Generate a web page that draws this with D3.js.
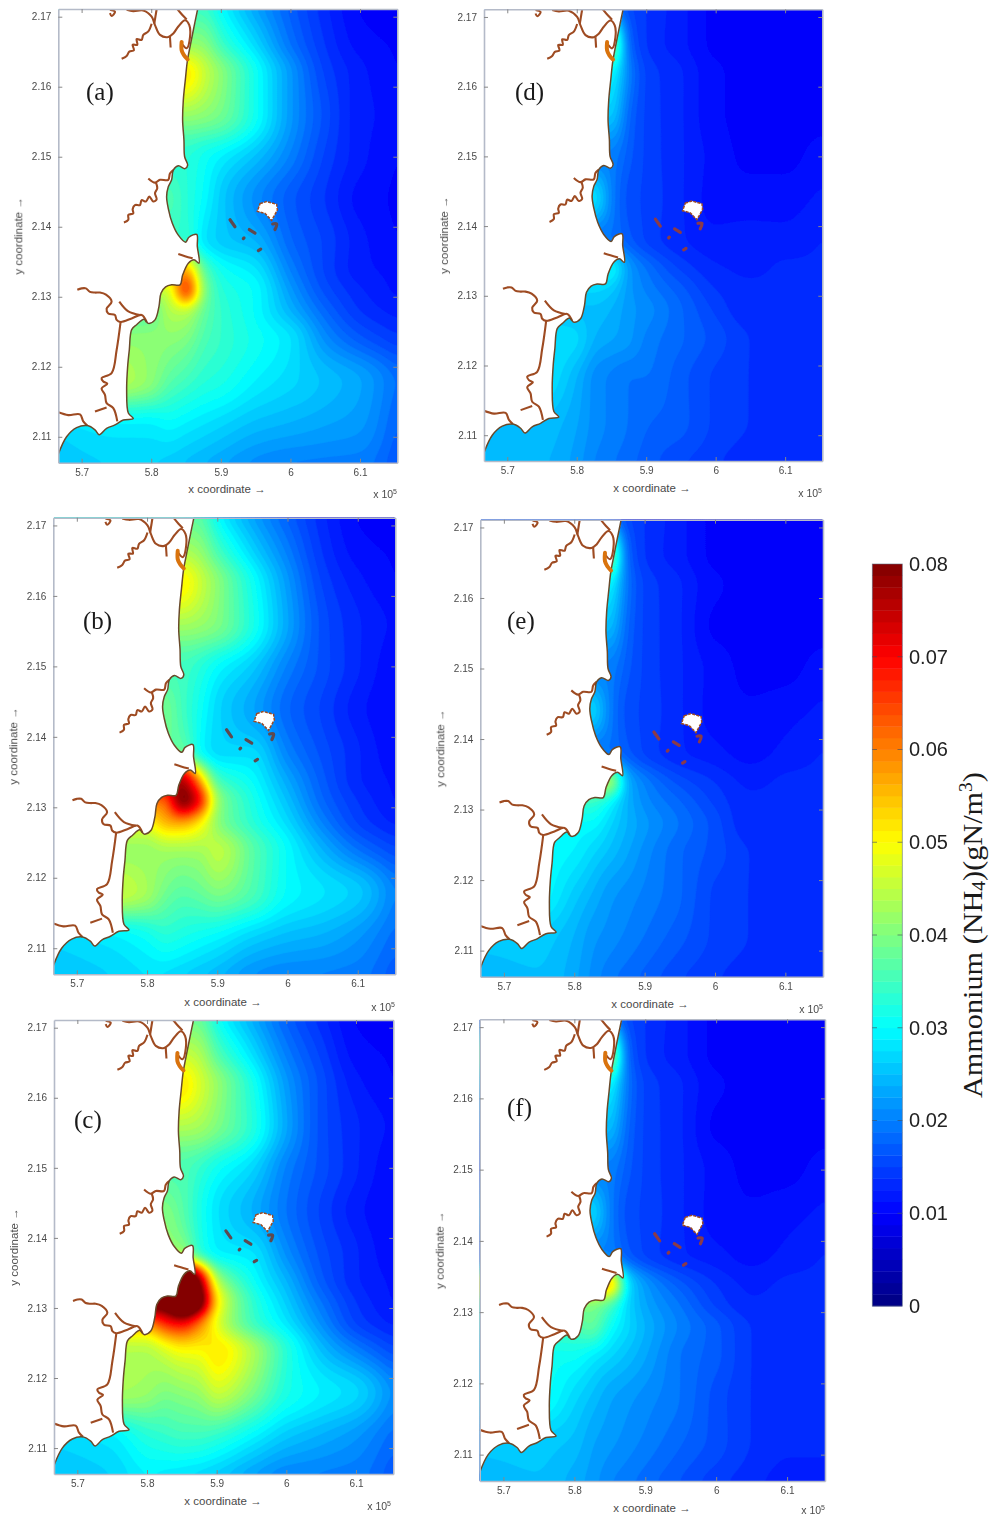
<!DOCTYPE html>
<html><head><meta charset="utf-8">
<script src="https://cdn.jsdelivr.net/npm/d3@7"></script>
<style>html,body{margin:0;padding:0;background:#fff}svg{display:block}</style>
</head><body><svg id="c" width="992" height="1517"></svg>
<script>
// ---- reading grid: eastings (x 1e5) and northings (x 1e6), ammonium in 1e-3 gN/m3
const gridX = [5.65,5.75,5.80,5.825,5.85,5.875,5.90,5.95,6.00,6.05,6.10,6.16];
const gridY = [2.172,2.166,2.162,2.156,2.15,2.144,2.138,2.134,2.131,2.128,2.124,2.118,2.112,2.105];
const fieldA = [
[33,33,33,33,33,33,29,22,17,13,10,9],
[42,42,42,42,42,41,35,27,19,14,11,10],
[52,52,52,52,52,46,41,31,22,15,12,10],
[42,42,42,42,42,41,39,31,22,16,12,11],
[33,33,33,33,33,31,29,25,20,15,12,10],
[36,36,36,36,33,30,26,21,17,14,11,10],
[34,34,34,34,34,28,26,24,18,15,12,10],
[56,56,56,56,56,37,31,28,20,15,12,11],
[46,46,46,46,68,41,33,30,22,16,13,11],
[37,37,37,44,45,38,34,30,24,18,14,12],
[41,41,41,41,40,36,34,31,28,21,17,14],
[44,44,41,37,35,33,32,29,27,25,23,18],
[27,29,29,30,29,28,27,25,24,23,22,17],
[25,26,26,25,24,23,22,20,19,19,19,16]];
const fieldB = [
[36,36,36,36,36,36,29,22,17,13,10,9],
[44,44,44,44,44,42,36,27,20,14,11,10],
[51,51,51,51,51,46,41,31,22,15,12,10],
[43,43,43,43,43,42,40,32,23,16,13,11],
[35,35,35,35,35,33,30,26,20,16,13,10],
[39,39,39,39,35,31,27,23,18,15,12,10],
[38,38,38,38,38,30,27,27,20,16,13,10],
[76,76,76,76,76,56,35,30,23,17,13,11],
[62,62,62,62,82,70,42,32,25,18,14,11],
[50,50,50,56,58,52,41,33,27,20,15,12],
[42,42,42,43,43,43,45,37,30,24,19,15],
[46,46,43,39,37,38,40,36,30,28,26,19],
[27,29,31,33,32,31,30,27,25,24,22,18],
[25,26,27,26,25,24,23,20,19,19,19,16]];
const fieldC = [
[37,37,37,37,37,37,30,23,17,13,10,9],
[46,46,46,46,46,44,37,28,20,15,11,10],
[52,52,52,52,52,47,42,32,22,16,12,10],
[44,44,44,44,44,43,40,33,23,16,13,11],
[36,36,36,36,36,34,31,27,20,16,13,10],
[40,40,40,40,37,32,28,24,19,15,12,10],
[42,42,42,42,42,33,29,28,21,16,13,10],
[100,100,100,100,100,80,44,31,24,17,13,11],
[88,88,88,88,100,88,52,34,26,19,14,11],
[60,60,60,68,72,62,48,35,28,21,15,12],
[44,44,44,47,50,50,52,44,33,25,20,15],
[43,43,42,40,41,42,46,40,32,29,27,20],
[27,29,33,34,35,35,34,30,26,24,22,18],
[25,26,28,27,26,25,24,21,19,19,19,16]];
const fieldD = [
[15,15,15,15,15,15,14,12,10,10,10,10],
[40,40,40,40,40,18,14,12,10,10,10,10],
[30,30,30,30,30,20,15,13,10.5,10,10,10],
[26,26,26,26,26,18,15,13,10.5,10,10,10],
[20,20,20,20,20,17,15,13,11,10,10,11],
[28,28,28,28,20,16,15,13,11,11,11,12],
[19,19,19,19,19,17,15,13,12,12,12,13],
[30,30,30,30,30,22,19,15,13,12.5,13,13],
[27,27,27,27,26,22,20,17,14,13,13,13],
[25,25,25,25,24,22,21,18,15,13,13,13],
[28,28,27,24,23,22,20,18,16,14,13,13],
[28,28,24,21,20,19,19,17,15,14,13,13],
[25,25,23,21,20,19,18,17,15,14,13,13],
[24,24,22,20,19,18,17,15,14,13,13,13]];
const fieldE = [
[15,15,15,15,15,15,14,12,10,10,10,10],
[40,40,40,40,40,18,14,12,10,10,10,10],
[30,30,30,30,30,19,15,13,10.5,10,10,10],
[25,25,25,25,25,18,15,13,10,10,10,10],
[20,20,20,20,20,17,15,13,11,10,10,11],
[27,27,27,27,20,16,15,13,11,10.5,11,12],
[19,19,19,19,19,17,15,13,12,11,12,13],
[44,44,44,44,44,24,20,16,14,12.5,13,13],
[34,34,34,34,30,24,21,18,15,13,13,13],
[30,30,30,30,27,24,22,19,16,13,13,13],
[30,30,29,27,25,23,21,18,16,14,13,13],
[30,30,26,24,22,21,20,18,15,14,13,13],
[26,26,24,22,21,20,19,17,15,14,13,13],
[24,25,23,21,19,18,17,15,14,13,13,13]];
const fieldF = [
[15,15,15,15,15,15,14,12,10,10,10,10],
[42,42,42,42,42,18,14,12,10,10,10,10],
[30,30,30,30,30,19,15,13,10.5,10,10,10],
[25,25,25,25,25,18,15,13,10,10,10,10],
[20,20,20,20,20,17,15,13,11,10,10,11],
[27,27,27,27,20,16,15,13,11,10.5,11,12],
[20,20,20,20,20,17,15,13,12,11,12,13],
[56,56,56,56,56,28,22,17,14,12.5,13,13],
[40,40,40,40,36,27,23,19,15,13,13,13],
[36,36,36,38,31,27,24,20,17,14,13,13],
[31,31,31,29,27,25,23,19,17,14,13,13],
[31,31,27,25,23,22,21,19,16,14,13,13],
[26,26,25,23,22,21,20,18,16,14,13,13],
[24,25,23,22,20,19,18,16,14,13,12,12]];
const fields = [fieldA,fieldB,fieldC,fieldD,fieldE,fieldF];
const panelNames = ["(a)","(b)","(c)","(d)","(e)","(f)"];

// ---- coastline, rivers, islands (easting x 1e5, northing x 1e6)
const coastline = [[5.8667,2.1711],[5.8595,2.1676],[5.8547,2.1652],[5.8518,2.1636],[5.849,2.161],[5.8461,2.1581],[5.8451,2.1552],[5.847,2.1524],[5.848,2.15],[5.8523,2.1488],[5.8485,2.1483],[5.8389,2.1487],[5.8317,2.1481],[5.8293,2.1467],[5.8245,2.1457],[5.8221,2.1443],[5.8245,2.1426],[5.8303,2.1405],[5.8389,2.1388],[5.8494,2.1378],[5.8542,2.1385],[5.8653,2.1389],[5.8662,2.1372],[5.8686,2.1348],[5.8614,2.1353],[5.8533,2.1348],[5.8451,2.1331],[5.8413,2.1317],[5.8293,2.1317],[5.8207,2.1314],[5.814,2.1305],[5.8111,2.1286],[5.8054,2.1267],[5.7958,2.1262],[5.7896,2.1268],[5.779,2.126],[5.7719,2.1253],[5.7685,2.1224],[5.7661,2.12],[5.7647,2.1167],[5.7671,2.1134],[5.7742,2.1126],[5.7599,2.1124],[5.7479,2.1117],[5.7359,2.1112],[5.7254,2.1103],[5.7192,2.111],[5.7081,2.1116],[5.6928,2.1113],[5.6784,2.11],[5.6665,2.1075]];
const rivers = [
[[5.7407,2.171],[5.7479,2.1707],[5.7431,2.1701],[5.7407,2.1705]],
[[5.7647,2.171],[5.7742,2.1708],[5.7886,2.1709],[5.8006,2.17],[5.8054,2.1688],[5.8126,2.1674],[5.8245,2.1671],[5.8317,2.1676],[5.8389,2.1686],[5.8485,2.1695],[5.8547,2.1688],[5.8557,2.1671],[5.8509,2.1655],[5.8437,2.1662]],
[[5.8006,2.169],[5.7958,2.1679],[5.7886,2.1674],[5.7862,2.1667],[5.779,2.1668],[5.78,2.166],[5.7733,2.166],[5.7752,2.1652],[5.7685,2.165],[5.7647,2.1644],[5.7575,2.164]],
[[5.8375,2.1711],[5.8451,2.1702],[5.8509,2.1696]],
[[5.8078,2.1711],[5.8044,2.169]],
[[5.8269,2.1671],[5.8279,2.1656]],
[[5.8317,2.1481],[5.8269,2.1476],[5.8245,2.1467],[5.8126,2.1467],[5.8054,2.1463],[5.7958,2.1469]],
[[5.8068,2.1463],[5.8087,2.1455],[5.8054,2.1448],[5.8078,2.1439],[5.803,2.1436],[5.7972,2.1443],[5.7924,2.1436],[5.7862,2.1438],[5.7838,2.1431],[5.7766,2.1431],[5.7733,2.1425],[5.7742,2.1419],[5.7671,2.1417],[5.7671,2.141],[5.7608,2.1406]],
[[5.8389,2.1361],[5.8485,2.1358],[5.8595,2.1355]],
[[5.6938,2.131],[5.7,2.1312],[5.7062,2.1312],[5.712,2.1307],[5.7192,2.1306],[5.7263,2.1306],[5.735,2.1303],[5.7431,2.1293],[5.7359,2.1283],[5.7383,2.1276],[5.7479,2.1274],[5.7503,2.1267],[5.756,2.1264],[5.7719,2.1269],[5.7862,2.1274],[5.7934,2.1264]],
[[5.7541,2.1293],[5.7671,2.1279],[5.7838,2.1274]],
[[5.756,2.1264],[5.7503,2.1224],[5.7431,2.1191],[5.7287,2.1184],[5.7311,2.1179],[5.7369,2.1176],[5.7287,2.1169],[5.7335,2.116],[5.7359,2.1148],[5.7455,2.1141],[5.7513,2.1122]],
[[5.7192,2.1136],[5.7359,2.1142]],
[[5.6665,2.1135],[5.6808,2.1131],[5.6976,2.1132],[5.7024,2.1122],[5.7081,2.1116]]];
const estuary = [[5.8437,2.1664],[5.8437,2.1652],[5.847,2.1645],[5.8523,2.1639]];
const mainIsland = [[5.9563,2.1433],[5.9658,2.1436],[5.9802,2.1432],[5.9812,2.1424],[5.973,2.1409],[5.9635,2.1419],[5.9524,2.1422]];
const islets = [
[[5.9745,2.1404],[5.9802,2.1404],[5.9778,2.1396]],
[[5.9132,2.141],[5.9203,2.14]],
[[5.9409,2.1396],[5.9491,2.1391]],
[[5.9323,2.1383],[5.9333,2.1384]],
[[5.9539,2.1366],[5.9573,2.1368]]];

// ---- axis ticks and colour bar
const xTicks = [5.7,5.8,5.9,6.0,6.1];
const yTicks = [2.11,2.12,2.13,2.14,2.15,2.16,2.17];
const barTicks = [0,0.01,0.02,0.03,0.04,0.05,0.06,0.07,0.08];
const xExtent = [5.6665,6.1535];
const yExtent = [2.1063,2.1711];

// layout: plot rectangles and annotations
const layout = [
 {l:58.3,r:397.3,t:9,b:462.7,  lx:86, ly:100, xl:227, xly:493,  px:397, py:498},
 {l:53.3,r:395.3,t:517.7,b:974.3, lx:83, ly:629, xl:223, xly:1006, px:395, py:1011},
 {l:54,r:393.3,t:1020,b:1474,  lx:74, ly:1128, xl:223, xly:1505, px:391, py:1510},
 {l:484,r:822.3,t:9.3,b:461,   lx:515, ly:100, xl:652, xly:492,  px:822, py:497},
 {l:480.3,r:823,t:519.7,b:976.7, lx:507, ly:629, xl:650, xly:1008, px:823, py:1013},
 {l:479.7,r:825,t:1019.3,b:1481, lx:507, ly:1116, xl:652, xly:1512, px:825, py:1514}];

const jet = d3.scaleLinear()
  .domain([0,0.01,0.03,0.05,0.07,0.08])
  .range(["#000080","#0000ff","#00ffff","#ffff00","#ff0000","#800000"]).clamp(true);
const thresholds = d3.range(0.3,80,1.25);

const svg = d3.select("#c");
const defs = svg.append("defs");
defs.append("filter").attr("id","soft").attr("x","-2%").attr("y","-2%").attr("width","104%").attr("height","104%")
  .append("feGaussianBlur").attr("stdDeviation",0.55);
const sans = "'Liberation Sans',Arial,sans-serif", serif = "'Liberation Serif','Times New Roman',serif";

// monotone cubic resampling of the reading grid
function pchip(xs,ys){
  const n=xs.length,h=[],d=[],m=new Array(n);
  for(let i=0;i<n-1;i++){h[i]=xs[i+1]-xs[i];d[i]=(ys[i+1]-ys[i])/h[i];}
  m[0]=d[0];m[n-1]=d[n-2];
  for(let i=1;i<n-1;i++){
    if(d[i-1]*d[i]<=0)m[i]=0;
    else{const a=2*h[i]+h[i-1],b=h[i]+2*h[i-1];m[i]=(a+b)/(a/d[i-1]+b/d[i]);}
  }
  return x=>{
    const q=Math.max(xs[0],Math.min(xs[n-1],x));
    const i=Math.min(n-2,Math.max(0,d3.bisectRight(xs,q)-1));
    const t=(q-xs[i])/h[i],t2=t*t,t3=t2*t;
    return (2*t3-3*t2+1)*ys[i]+(t3-2*t2+t)*h[i]*m[i]+(-2*t3+3*t2)*ys[i+1]+(t3-t2)*h[i]*m[i+1];
  };
}
const negY=gridY.map(v=>-v);

layout.forEach((p,k)=>{
  const x=d3.scaleLinear().domain(xExtent).range([p.l,p.r]);
  const y=d3.scaleLinear().domain(yExtent).range([p.b,p.t]);
  const nx=Math.round((p.r-p.l)/2), ny=Math.round((p.b-p.t)/2);
  const gx=d3.scaleLinear().domain([0,nx]).range([p.l,p.r]);
  const gy=d3.scaleLinear().domain([0,ny]).range([p.t,p.b]);
  const vals=new Float64Array(nx*ny);
  const rowSpl=fields[k].map(r=>pchip(gridX,r));
  for(let i=0;i<nx;i++){
    const xv=x.invert(gx(i+.5));
    const col=pchip(negY,rowSpl.map(s=>s(xv)));
    for(let j=0;j<ny;j++) vals[j*nx+i]=col(-y.invert(gy(j+.5)));
  }
  d3.blur2({data:vals,width:nx,height:ny},2);
  for(let n=0;n<vals.length;n++) vals[n]=Math.min(vals[n],79.9);
  const contours=d3.contours().size([nx,ny]).thresholds(thresholds)(Array.from(vals));
  const proj=d3.geoTransform({point(a,b){this.stream.point(gx(a),gy(b));}});
  const path=d3.geoPath(proj);
  const cid="clip"+k;
  defs.append("clipPath").attr("id",cid).append("rect").attr("x",p.l).attr("y",p.t).attr("width",p.r-p.l).attr("height",p.b-p.t);
  const g=svg.append("g").attr("filter","url(#soft)");
  const plot=g.append("g").attr("clip-path",`url(#${cid})`);
  plot.append("rect").attr("x",p.l).attr("y",p.t).attr("width",p.r-p.l).attr("height",p.b-p.t).attr("fill",jet(0.009));
  plot.append("g").selectAll("path").data(contours).join("path")
    .attr("d",path).attr("fill",d=>jet((d.value+0.625)/1000)).attr("stroke",d=>jet((d.value+0.625)/1000)).attr("stroke-width",0.4);
  const line=d3.line().x(d=>x(d[0])).y(d=>y(d[1])).curve(d3.curveCatmullRom.alpha(0.5));
  const poly=d3.line().x(d=>x(d[0])).y(d=>y(d[1])).curve(d3.curveLinearClosed);
  const landPts=[[5.868,2.18],...coastline,[5.66,2.1055],[5.55,2.1055],[5.55,2.18]];
  plot.append("path").attr("d",line(landPts)+"Z").attr("fill","#fff");
  const brown="#9e4b22", shore="#694a2b";
  plot.append("g").selectAll("path").data(rivers).join("path")
    .attr("d",line).attr("fill","none").attr("stroke",brown).attr("stroke-width",2.1).attr("stroke-linejoin","round");
  plot.append("path").attr("d",line(coastline)).attr("fill","none").attr("stroke",shore).attr("stroke-width",1.5);
  plot.append("path").attr("d",line(estuary)).attr("fill","none").attr("stroke","#d9730f").attr("stroke-width",4).attr("stroke-linecap","round");
  plot.append("path").attr("d",poly(mainIsland)).attr("fill","#fff").attr("stroke",brown).attr("stroke-width",1.5).attr("stroke-dasharray","3 1.2");
  plot.append("g").selectAll("path").data(islets).join("path")
    .attr("d",line).attr("fill","none").attr("stroke",k<3?"#5e4a50":"#8a3a4a").attr("stroke-width",3.2).attr("stroke-linecap","round");

  const style=a=>{a.selectAll("text").attr("fill","#4a4a4a").attr("font-family",sans).attr("font-size",10);
    a.selectAll(".tick line").attr("stroke","#888");a.select(".domain").attr("stroke","#b4bac8").attr("stroke-width",1.6);};
  g.append("g").attr("transform",`translate(0,${p.b})`)
    .call(d3.axisBottom(x).tickValues(xTicks).tickFormat(d3.format("")).tickSize(-4).tickPadding(6).tickSizeOuter(0)).call(style);
  g.append("g").attr("transform",`translate(${p.l},0)`)
    .call(d3.axisLeft(y).tickValues(yTicks).tickFormat(d3.format(".2f")).tickSize(-4).tickPadding(7).tickSizeOuter(0)).call(style);
  g.append("g").attr("transform",`translate(0,${p.t})`)
    .call(d3.axisTop(x).tickValues(xTicks).tickFormat("").tickSize(-4).tickSizeOuter(0)).call(style);
  g.append("g").attr("transform",`translate(${p.r},0)`)
    .call(d3.axisRight(y).tickValues(yTicks).tickFormat("").tickSize(-4).tickSizeOuter(0)).call(style);

  const lab=svg.append("g").attr("font-family",sans).attr("font-size",11.5).attr("fill","#4a4a4a");
  lab.append("text").attr("x",p.xl).attr("y",p.xly).attr("text-anchor","middle").text("x coordinate →");
  lab.append("text").attr("transform",`translate(${p.l-36},${(p.t+p.b)/2}) rotate(-90)`).attr("text-anchor","middle").text("y coordinate →");
  const e=lab.append("text").attr("x",p.px).attr("y",p.py).attr("text-anchor","end").attr("font-size",10.5);
  e.append("tspan").text("x 10");
  e.append("tspan").attr("dy",-4).attr("font-size",7).text("5");
  svg.append("text").attr("x",p.lx).attr("y",p.ly).attr("font-family",serif).attr("font-size",25).attr("fill","#1a1a1a").text(panelNames[k]);
});

// colour bar
const barY=d3.scaleLinear().domain([0,0.08]).range([1306,564]);
const bar=svg.append("g");
const steps=d3.range(0,64);
bar.selectAll("rect").data(steps).join("rect")
  .attr("x",872.3).attr("width",30)
  .attr("y",d=>barY((d+1)*0.08/64)).attr("height",d=>barY(d*0.08/64)-barY((d+1)*0.08/64)+0.4)
  .attr("fill",d=>jet((d+0.5)*0.08/64));
bar.append("rect").attr("x",872.3).attr("y",564).attr("width",30).attr("height",742).attr("fill","none").attr("stroke","#5a6a80").attr("stroke-width",0.8).attr("stroke-opacity",0.7);
const axisBar=svg.append("g").attr("transform","translate(902.3,0)")
  .call(d3.axisRight(barY).tickValues(barTicks).tickFormat(d=>d===0?"0":d3.format(".2f")(d)).tickSize(0).tickPadding(6.7));
axisBar.select(".domain").remove();
axisBar.selectAll("text").attr("font-family",sans).attr("font-size",20).attr("fill","#222");
const tickG=svg.append("g").selectAll("g").data(barTicks.slice(1,-1)).join("g");
tickG.append("line").attr("x1",872.3).attr("x2",877).attr("y1",d=>barY(d)).attr("y2",d=>barY(d)).attr("stroke","#3a4a5a").attr("stroke-opacity",.6);
tickG.append("line").attr("x1",897.5).attr("x2",902.3).attr("y1",d=>barY(d)).attr("y2",d=>barY(d)).attr("stroke","#3a4a5a").attr("stroke-opacity",.6);

const title=svg.append("text").attr("transform","translate(982,1098) rotate(-90) scale(1.08,1)")
  .attr("font-family",serif).attr("font-size",28).attr("fill","#1a1a1a");
title.append("tspan").text("Ammonium (NH");
title.append("tspan").attr("font-size",18).attr("dy",3).text("4");
title.append("tspan").attr("dy",-3).text(")(gN/m");
title.append("tspan").attr("font-size",18).attr("dy",-10).text("3");
title.append("tspan").attr("dy",10).text(")");
</script></body></html>
